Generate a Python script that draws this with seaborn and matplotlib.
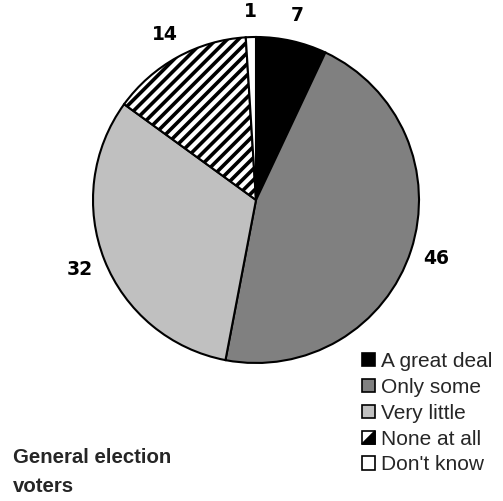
import matplotlib
matplotlib.use("Agg")
import matplotlib.pyplot as plt
from matplotlib.patches import Rectangle, Polygon, Patch
from matplotlib.legend_handler import HandlerPatch
import seaborn as sns

sns.set_theme(style="white")
plt.rcParams["font.family"] = ["Liberation Sans", "DejaVu Sans"]
plt.rcParams["hatch.linewidth"] = 2.6

categories = ["A great deal", "Only some", "Very little", "None at all", "Don't know"]
values = [7, 46, 32, 14, 1]
colors = ["#000000", "#808080", "#c0c0c0", "#ffffff", "#ffffff"]
hatches = ["", "", "", "///", ""]
title_text = "General election\nvoters"

fig = plt.figure(figsize=(5.03, 5.01), dpi=100)
W, H = 503, 501
cx, cy, r = 256, 200, 163
ax = fig.add_axes([(cx - r) / W, (H - cy - r) / H, 2 * r / W, 2 * r / H])

wedges, texts, autotexts = ax.pie(
    values,
    colors=colors,
    startangle=90,
    counterclock=False,
    autopct=lambda p: f"{p:.0f}",
    pctdistance=1.16,
    wedgeprops=dict(edgecolor="black", linewidth=1.5),
    textprops=dict(fontsize=13.5, fontweight="bold", color="black",
                   family=["DejaVu Sans"]),
)
for w, h in zip(wedges, hatches):
    if h:
        w.set_hatch(h)
for t in autotexts:
    t.set_clip_on(False)
ax.set_xlim(-1, 1)
ax.set_ylim(-1, 1)


class HalfFillHandler(HandlerPatch):
    def create_artists(self, legend, orig_handle, xdescent, ydescent,
                       width, height, fontsize, trans):
        x0, y0 = -xdescent, -ydescent
        sq = Rectangle((x0, y0), width, height, facecolor="white",
                       edgecolor="black", linewidth=1.2, transform=trans)
        tri = Polygon([(x0, y0), (x0 + width, y0), (x0 + width, y0 + height)],
                      closed=True, facecolor="black", edgecolor="black",
                      linewidth=1.2, transform=trans)
        return [sq, tri]


handles = []
hmap = {}
for cat, col, h in zip(categories, colors, hatches):
    p = Patch(facecolor=col, edgecolor="black", linewidth=1.2, label=cat)
    handles.append(p)
    if h:
        hmap[p] = HalfFillHandler()

fig.legend(
    handles=handles,
    loc="upper left",
    bbox_to_anchor=(362 / W, 1 - 352 / H),
    frameon=False,
    fontsize=15,
    handlelength=0.62,
    handleheight=0.62,
    handletextpad=0.3,
    labelspacing=0.33,
    borderpad=0,
    borderaxespad=0,
    handler_map=hmap,
)

fig.text(13 / W, 1 - 448 / H, title_text, ha="left", va="top",
         fontsize=14.7, fontweight="bold", linespacing=1.68)

fig.savefig("out.png", dpi=100)
